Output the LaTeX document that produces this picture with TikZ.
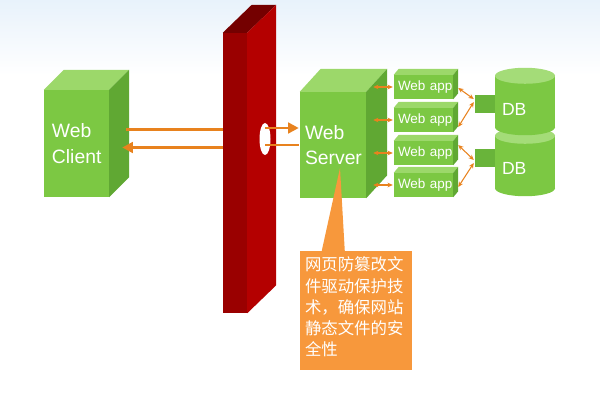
\documentclass[tikz,border=0pt]{standalone}
\usepackage{fontspec}
\setmainfont{Liberation Sans}
\newfontfamily\cjk{Noto Sans CJK SC}
\usetikzlibrary{positioning, calc, arrows.meta, shapes.geometric}

\definecolor{grfront}{HTML}{7CC843}
\definecolor{grtop}{HTML}{9CD86A}
\definecolor{grside}{HTML}{60A833}
\definecolor{grlink}{HTML}{69B43A}
\definecolor{dbtop}{HTML}{A4DC78}
\definecolor{wallfront}{HTML}{9A0000}
\definecolor{wallside}{HTML}{B40000}
\definecolor{walltop}{HTML}{740000}
\definecolor{arr}{HTML}{E8821E}
\definecolor{noteor}{HTML}{F7983C}
\definecolor{bgblue}{HTML}{E8F2FB}

\begin{document}
\begin{tikzpicture}[x=0.03cm, y=-0.03cm,
  front/.style={fill=grfront, inner ysep=0pt, text=white, align=left},
  bigfont/.style={font=\fontsize{16.5}{22}\selectfont},
  appbox/.style={front, inner xsep=0.12cm, text width=1.53cm,
    minimum height=0.72cm, font=\fontsize{11.5}{12}\selectfont},
  dbbody/.style={fill=grfront, inner sep=0pt, minimum width=1.8cm},
  dblabel/.style={anchor=west, inner sep=0pt, text=white,
    font=\fontsize{15}{16}\selectfont},
  link/.style={fill=grlink, inner sep=0pt, minimum width=0.6cm, minimum height=0.54cm},
  bigline/.style={draw=arr, line width=2.5pt},
  bigarrow/.style={bigline, -{Triangle[length=9pt,width=9pt]}},
  smallarrow/.style={draw=arr, line width=0.9pt,
    {Stealth[length=4.5pt,width=4pt]}-{Stealth[length=4.5pt,width=4pt]}}]

  \useasboundingbox (0,0) rectangle (600,400);
  \shade[top color=bgblue, bottom color=white] (0,0) rectangle (600,75);

  % web client
  \node[front, bigfont, inner xsep=0.24cm, text width=1.47cm, minimum height=3.21cm]
    (client) at (76.5,143.5) {Web\\Client};

  % firewall
  \node[fill=wallfront, inner sep=0pt, minimum width=0.72cm, minimum height=8.4cm]
    (wall) at (235,173) {};
  \fill[walltop] (wall.north west) -- ++(29,-28) -- ($(wall.north east)+(29,-28)$)
    -- (wall.north east) -- cycle;
  \fill[wallside] (wall.north east) -- ++(29,-28) -- ($(wall.south east)+(29,-28)$)
    -- (wall.south east) -- cycle;
  \node[ellipse, fill=white, inner sep=0pt, minimum width=0.33cm, minimum height=0.96cm]
    (hole) at (265,139) {};

  % web server and apps
  \node[front, bigfont, inner xsep=0.15cm, text width=1.68cm, minimum height=3.18cm]
    (server) at (333,145) {Web\\Server};
  \node[appbox] (app1) at (423.5,87) {\mbox{Web app}};
  \node[appbox] (app2) at (423.5,120) {\mbox{Web app}};
  \node[appbox] (app3) at (423.5,153) {\mbox{Web app}};
  \node[appbox] (app4) at (423.5,185) {\mbox{Web app}};

  \foreach \n/\dx/\dy in {client/20/20, server/21/23, app1/5/6, app2/5/6, app3/5/6, app4/5/6} {
    \fill[grtop] (\n.north west) -- ++(\dx,-\dy) -- ($(\n.north east)+(\dx,-\dy)$)
      -- (\n.north east) -- cycle;
    \fill[grside] (\n.north east) -- ++(\dx,-\dy) -- ($(\n.south east)+(\dx,-\dy)$)
      -- (\n.south east) -- cycle;
  }

  % databases
  \node[dbbody, minimum height=1.56cm] (db2) at (525,162) {};
  \fill[grfront] (db2.south) ellipse [x radius=30, y radius=8];
  \fill[dbtop] (db2.north) ellipse [x radius=30, y radius=8];
  \node[dbbody, minimum height=1.53cm] (db1) at (525,101.5) {};
  \fill[grfront] (db1.south) ellipse [x radius=30, y radius=8];
  \fill[dbtop] (db1.north) ellipse [x radius=30, y radius=8];
  \node[dblabel] (db1lbl) at ([shift={(7,8)}]db1.west) {DB};
  \node[dblabel] (db2lbl) at ([shift={(7,6.5)}]db2.west) {DB};
  \node[link] (link1) at (485,104) {};
  \node[link] (link2) at (485,158) {};

  % traffic through the firewall
  \coordinate (cs1) at ([shift={(17,-14)}]client.east);
  \coordinate (cs2) at ([shift={(13,4)}]client.east);
  \coordinate (ss1) at ([shift={(-1,-17)}]server.west);
  \coordinate (ss2) at ([shift={(-1,0)}]server.west);
  \draw[bigline] (cs1) -- (cs1 -| wall.west);
  \draw[bigarrow] (cs2 -| wall.west) -- (cs2);
  \draw[bigarrow] (ss1 -| hole) -- (ss1);
  \draw[bigline] (ss2) -- (ss2 -| hole);

  \foreach \i in {1,...,4}
    \draw[smallarrow] ($(server.east |- app\i.west)+(7,0)$) -- ([shift={(-1,0)}]app\i.west);

  \draw[smallarrow] ([shift={(5,1)}]app1.east) -- ([shift={(-1,-5)}]link1.west);
  \draw[smallarrow] ([shift={(5,7)}]app2.east) -- ([shift={(-1,-2)}]link1.west);
  \draw[smallarrow] ([shift={(5,-8)}]app3.east) -- ([shift={(-1,2)}]link2.west);
  \draw[smallarrow] ([shift={(5,2)}]app4.east) -- ([shift={(-1,5)}]link2.west);

  % note
  \node[fill=noteor, inner sep=0pt, minimum width=3.36cm, minimum height=3.57cm]
    (note) at (356,310.5) {};
  \coordinate (tip) at ([shift={(7,23)}]server.center);
  \fill[noteor] (tip) -- ([shift={(22,0)}]note.north west)
    -- ([shift={(45,0)}]note.north west) -- cycle;
  \node[anchor=north west, inner sep=0pt, text=white, align=left,
    font=\cjk\fontsize{14}{18}\selectfont] (notetext)
    at ([shift={(5,6)}]note.north west)
    {网页防篡改文\\件驱动保护技\\术，确保网站\\静态文件的安\\全性};
\end{tikzpicture}
\end{document}
